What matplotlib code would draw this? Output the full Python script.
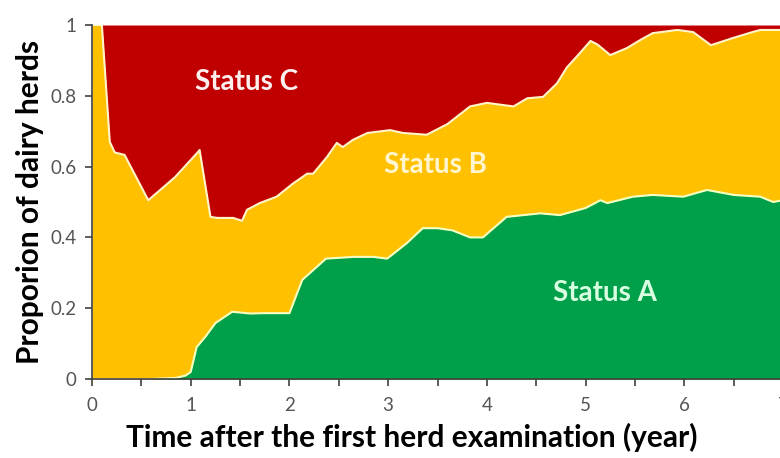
import matplotlib
matplotlib.use("Agg")
import matplotlib.pyplot as plt
from matplotlib.ticker import MultipleLocator

# cumulative share of herds in status A or B (yellow/red border)
time_ab = [0.0, 0.10, 0.18, 0.23, 0.33, 0.57, 0.84, 1.07, 1.09, 1.20, 1.27, 1.43,
           1.52, 1.57, 1.70, 1.87, 2.04, 2.18, 2.24, 2.38, 2.48, 2.54, 2.64, 2.79,
           3.02, 3.15, 3.39, 3.60, 3.83, 4.00, 4.27, 4.41, 4.57, 4.71, 4.81, 4.94,
           5.05, 5.12, 5.25, 5.42, 5.55, 5.68, 5.93, 6.09, 6.27, 6.49, 6.69, 6.77, 7.0]
share_ab = [1.0, 1.0, 0.67, 0.64, 0.633, 0.505, 0.57, 0.64, 0.647, 0.458, 0.455, 0.455,
            0.447, 0.478, 0.497, 0.515, 0.553, 0.58, 0.58, 0.627, 0.667, 0.655, 0.675, 0.695,
            0.703, 0.695, 0.69, 0.72, 0.77, 0.78, 0.77, 0.793, 0.797, 0.835, 0.88, 0.92,
            0.955, 0.945, 0.915, 0.935, 0.957, 0.977, 0.986, 0.98, 0.943, 0.963, 0.98, 0.986, 0.986]

# share of herds in status A (green/yellow border)
time_a = [0.0, 0.60, 0.85, 0.95, 1.00, 1.06, 1.15, 1.25, 1.42, 1.60, 1.75, 2.00,
          2.13, 2.37, 2.65, 2.85, 2.99, 3.19, 3.35, 3.50, 3.65, 3.83, 3.96, 4.20,
          4.54, 4.74, 5.00, 5.15, 5.22, 5.48, 5.68, 5.99, 6.23, 6.50, 6.77, 6.90, 7.0]
share_a = [0.0, 0.0, 0.003, 0.01, 0.02, 0.09, 0.12, 0.158, 0.19, 0.185, 0.186, 0.186,
           0.28, 0.34, 0.345, 0.345, 0.34, 0.384, 0.426, 0.426, 0.42, 0.40, 0.40, 0.458,
           0.468, 0.463, 0.483, 0.505, 0.497, 0.515, 0.52, 0.515, 0.534, 0.52, 0.515, 0.50, 0.505]

labels = ["Status A", "Status B", "Status C"]
colors = {"A": "#00A04B", "B": "#FFC000", "C": "#C00000"}

plt.rcParams['font.family'] = ['Lato', 'DejaVu Sans']

fig = plt.figure(figsize=(7.8, 4.58), dpi=100)
ax = fig.add_axes([92 / 780, 1 - 379 / 458, 691 / 780, 354 / 458])

ax.fill_between(time_ab, share_ab, 1, color=colors["C"], lw=0)
ax.fill_between(time_ab, 0, share_ab, color=colors["B"], lw=0)
ax.fill_between(time_a, 0, share_a, color=colors["A"], lw=0)
ax.plot(time_ab, share_ab, color="#FFF5C8", lw=1.5)
ax.plot(time_a, share_a, color="#F4FFC0", lw=1.5)

ax.text(1.57, 0.84, labels[2], color="#FFF0F0", fontsize=20, fontweight="bold",
        ha="center", va="center")
ax.text(3.48, 0.605, labels[1], color="#FFF6D0", fontsize=20, fontweight="bold",
        ha="center", va="center")
ax.text(5.2, 0.243, labels[0], color="#D8FFE0", fontsize=20, fontweight="bold",
        ha="center", va="center")

ax.set_xlim(0, 7)
ax.set_ylim(0, 1)
ax.xaxis.set_major_locator(MultipleLocator(1))
ax.xaxis.set_minor_locator(MultipleLocator(0.5))
ax.set_yticks([0, 0.2, 0.4, 0.6, 0.8, 1])
ax.set_yticklabels(["0", "0.2", "0.4", "0.6", "0.8", "1"])

for s in ["top", "right"]:
    ax.spines[s].set_visible(False)
for s in ["left", "bottom"]:
    ax.spines[s].set_color("#404040")
    ax.spines[s].set_linewidth(1.2)
ax.tick_params(which="both", direction="out", color="#404040", width=1.2,
               length=5, labelsize=13.5, labelcolor="#555555")
ax.tick_params(axis="x", pad=8)
ax.tick_params(axis="y", pad=6)

ax.set_xlabel("Time after the first herd examination (year)", fontsize=21.5,
              fontweight="bold")
ax.xaxis.set_label_coords(0.463, -0.125)
ax.set_ylabel("Proporion of dairy herds", fontsize=21.5, fontweight="bold", labelpad=5)

fig.savefig("out.png", dpi=100)
